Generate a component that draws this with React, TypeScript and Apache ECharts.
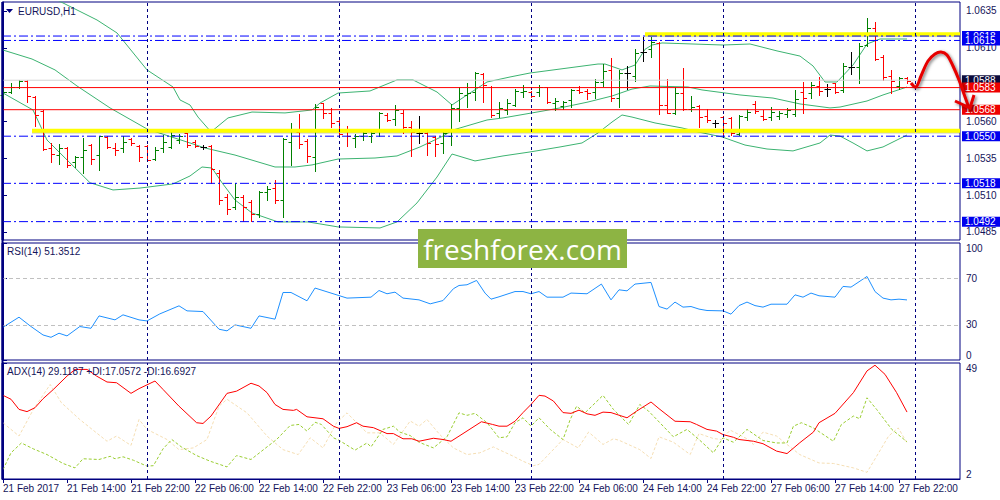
import React, { useEffect, useRef } from "react";
import * as echarts from "echarts";

// ---------- DATA ----------
const tickIndex = [0, 8, 16, 24, 32, 40, 48, 56, 64, 72, 80, 88, 96, 104, 112];
const tickLabels = [
  "21 Feb 2017", "21 Feb 14:00", "21 Feb 22:00", "22 Feb 06:00", "22 Feb 14:00",
  "22 Feb 22:00", "23 Feb 06:00", "23 Feb 14:00", "23 Feb 22:00", "24 Feb 06:00",
  "24 Feb 14:00", "24 Feb 22:00", "27 Feb 06:00", "27 Feb 14:00", "27 Feb 22:00",
];
const daySeparators = [18, 42, 66, 90, 114];

const opens = [
  1.05780, 1.05800, 1.05834, 1.05878, 1.05766, 1.05671, 1.05420, 1.05372, 1.05423, 1.05325,
  1.05359, 1.05440, 1.05372, 1.05495, 1.05420, 1.05420, 1.05481, 1.05434, 1.05434, 1.05345,
  1.05420, 1.05427, 1.05474, 1.05522, 1.05464, 1.05425, 1.05434, 1.05250, 1.05087, 1.05021,
  1.05089, 1.05055, 1.04972, 1.05121, 1.05146, 1.05067, 1.05463, 1.05531, 1.05470, 1.05357,
  1.05723, 1.05660, 1.05603, 1.05542, 1.05486, 1.05501, 1.05501, 1.05542, 1.05644, 1.05615,
  1.05660, 1.05561, 1.05520, 1.05524, 1.05493, 1.05456, 1.05501, 1.05689, 1.05780, 1.05802,
  1.05922, 1.05836, 1.05660, 1.05678, 1.05712, 1.05802, 1.05802, 1.05802, 1.05832, 1.05728,
  1.05705, 1.05746, 1.05814, 1.05809, 1.05802, 1.05870, 1.05950, 1.05757, 1.05927, 1.05909,
  1.06074, 1.06090, 1.06135, 1.05712, 1.05656, 1.05795, 1.05683, 1.05705, 1.05637, 1.05592,
  1.05628, 1.05622, 1.05515, 1.05632, 1.05719, 1.05637, 1.05632, 1.05637, 1.05651, 1.05651,
  1.05802, 1.05791, 1.05841, 1.05818, 1.05859, 1.05814, 1.05968, 1.05972, 1.06119, 1.06233,
  1.06036, 1.05909, 1.05841, 1.05893,
];
const highs = [
  1.05834, 1.05861, 1.05882, 1.05882, 1.05770, 1.05678, 1.05454, 1.05447, 1.05427, 1.05366,
  1.05488, 1.05447, 1.05501, 1.05501, 1.05457, 1.05501, 1.05488, 1.05440, 1.05440, 1.05427,
  1.05508, 1.05549, 1.05515, 1.05525, 1.05471, 1.05440, 1.05440, 1.05271, 1.05108, 1.05184,
  1.05101, 1.05067, 1.05128, 1.05162, 1.05203, 1.05486, 1.05592, 1.05651, 1.05479, 1.05719,
  1.05728, 1.05689, 1.05615, 1.05569, 1.05515, 1.05542, 1.05542, 1.05661, 1.05656, 1.05712,
  1.05678, 1.05605, 1.05637, 1.05531, 1.05501, 1.05531, 1.05719, 1.05836, 1.05863, 1.05938,
  1.05927, 1.05841, 1.05734, 1.05751, 1.05818, 1.05848, 1.05807, 1.05848, 1.05836, 1.05757,
  1.05741, 1.05818, 1.05841, 1.05818, 1.05886, 1.05990, 1.06029, 1.05950, 1.05977, 1.06090,
  1.06172, 1.06172, 1.06142, 1.05886, 1.05832, 1.05961, 1.05773, 1.05712, 1.05683, 1.05610,
  1.05637, 1.05628, 1.05644, 1.05683, 1.05741, 1.05678, 1.05696, 1.05673, 1.05689, 1.05814,
  1.05870, 1.05870, 1.05904, 1.05854, 1.05863, 1.05999, 1.06074, 1.06131, 1.06301, 1.06277,
  1.06051, 1.05950, 1.05904, 1.05900,
];
const lows = [
  1.05759, 1.05793, 1.05827, 1.05732, 1.05569, 1.05406, 1.05325, 1.05311, 1.05291, 1.05291,
  1.05250, 1.05311, 1.05271, 1.05420, 1.05372, 1.05393, 1.05440, 1.05332, 1.05332, 1.05339,
  1.05393, 1.05420, 1.05456, 1.05427, 1.05425, 1.05413, 1.05184, 1.05040, 1.04972, 1.05004,
  1.04926, 1.04926, 1.04954, 1.05067, 1.05045, 1.04949, 1.05305, 1.05418, 1.05327, 1.05266,
  1.05622, 1.05565, 1.05501, 1.05434, 1.05425, 1.05474, 1.05463, 1.05501, 1.05605, 1.05576,
  1.05520, 1.05366, 1.05452, 1.05372, 1.05366, 1.05388, 1.05440, 1.05605, 1.05696, 1.05746,
  1.05734, 1.05628, 1.05632, 1.05651, 1.05705, 1.05768, 1.05768, 1.05773, 1.05728, 1.05678,
  1.05683, 1.05700, 1.05795, 1.05751, 1.05757, 1.05841, 1.05741, 1.05696, 1.05818, 1.05877,
  1.06013, 1.06036, 1.05651, 1.05656, 1.05651, 1.05678, 1.05673, 1.05561, 1.05599, 1.05561,
  1.05515, 1.05508, 1.05508, 1.05610, 1.05660, 1.05610, 1.05610, 1.05615, 1.05632, 1.05637,
  1.05660, 1.05757, 1.05780, 1.05773, 1.05795, 1.05802, 1.05922, 1.05863, 1.06112, 1.06017,
  1.05882, 1.05795, 1.05818, 1.05859,
];
const closes = [
  1.05800, 1.05834, 1.05878, 1.05773, 1.05644, 1.05413, 1.05379, 1.05420, 1.05305, 1.05359,
  1.05406, 1.05345, 1.05498, 1.05427, 1.05406, 1.05464, 1.05451, 1.05362, 1.05339, 1.05406,
  1.05464, 1.05508, 1.05501, 1.05440, 1.05434, 1.05425, 1.05277, 1.05067, 1.05006, 1.05085,
  1.05021, 1.04972, 1.05123, 1.05142, 1.05067, 1.05481, 1.05542, 1.05447, 1.05368, 1.05696,
  1.05660, 1.05588, 1.05515, 1.05501, 1.05501, 1.05524, 1.05522, 1.05656, 1.05610, 1.05678,
  1.05565, 1.05531, 1.05520, 1.05456, 1.05447, 1.05520, 1.05689, 1.05791, 1.05795, 1.05931,
  1.05848, 1.05644, 1.05689, 1.05728, 1.05809, 1.05809, 1.05773, 1.05832, 1.05734, 1.05741,
  1.05734, 1.05814, 1.05802, 1.05795, 1.05870, 1.05945, 1.05757, 1.05931, 1.05927, 1.06067,
  1.06074, 1.06142, 1.05712, 1.05660, 1.05795, 1.05683, 1.05696, 1.05632, 1.05610, 1.05592,
  1.05592, 1.05520, 1.05637, 1.05666, 1.05673, 1.05615, 1.05666, 1.05656, 1.05678, 1.05751,
  1.05757, 1.05848, 1.05809, 1.05818, 1.05802, 1.05977, 1.05968, 1.06112, 1.06233, 1.06024,
  1.05904, 1.05877, 1.05893, 1.05878,
];

const bbUpper = [
  [0, 1.06608], [6.75, 1.06425], [11.75, 1.06289], [14.25, 1.06201], [18, 1.0595], [21.25, 1.05834],
  [22.125, 1.05746], [23.375, 1.05712], [24.375, 1.0563], [26, 1.05529], [28.125, 1.05624],
  [31.125, 1.05664], [35.25, 1.05658], [38.625, 1.05678], [39.625, 1.05725], [41.875, 1.05793],
  [45.875, 1.05807], [49.25, 1.05882], [51.25, 1.05882], [54.25, 1.058], [56.125, 1.05712],
  [58, 1.0578], [60.5, 1.05868], [63.375, 1.05902], [65.875, 1.05929], [69.625, 1.05956],
  [74.375, 1.0599], [75.25, 1.0599], [77.375, 1.0595], [79, 1.05983], [80.25, 1.0609],
  [81.125, 1.06119], [82.375, 1.06133], [90, 1.06119], [93.375, 1.06126], [96.75, 1.06079],
  [99.625, 1.06044], [101.25, 1.05977], [102.75, 1.05868], [104.25, 1.05868], [106.25, 1.05983],
  [108, 1.06126], [109.625, 1.0616], [113, 1.0616],
];
const bbMiddle = [
  [0, 1.06085], [3.625, 1.06024], [6.5, 1.0595], [9.25, 1.05841], [13.375, 1.05692], [18, 1.05549],
  [23.375, 1.05454], [25.25, 1.0542], [29, 1.05372], [34, 1.05291], [36.5, 1.05291], [38.625, 1.05305],
  [41.875, 1.05345], [46.5, 1.05352], [49.25, 1.05366], [52.125, 1.05427], [55, 1.05501],
  [56.25, 1.05542], [60.5, 1.0561], [62.5, 1.05624], [67.5, 1.05671], [69.625, 1.05692],
  [73.125, 1.05732], [76.125, 1.05773], [78.625, 1.0582], [80.875, 1.05841], [85.625, 1.05834],
  [87.375, 1.05814], [92.125, 1.0578], [96.25, 1.05759], [99.625, 1.05719], [103.375, 1.05692],
  [104.625, 1.05698], [108, 1.05739], [110, 1.0578], [113, 1.05834],
];
const bbLower = [
  [0, 1.05793], [3.75, 1.05678], [5.5, 1.05474], [8, 1.05339], [10.875, 1.05184], [13.75, 1.05135],
  [17.125, 1.05148], [21.25, 1.05176], [23.375, 1.0523], [24.875, 1.05291], [26.125, 1.05284],
  [27.375, 1.05184], [29, 1.05067], [31.125, 1.04979], [34.375, 1.04918], [38.125, 1.04918],
  [41.875, 1.04884], [47.125, 1.04877], [49.25, 1.04918], [51.75, 1.05047], [54.25, 1.05223],
  [56.125, 1.05379], [59, 1.05332], [62.5, 1.05366], [65.875, 1.05393], [69.625, 1.05427],
  [72.375, 1.05454], [74.375, 1.05522], [76.125, 1.05596], [77.375, 1.05644], [78.625, 1.0563],
  [81.5, 1.0559], [84.875, 1.05556], [86.875, 1.05529], [89.875, 1.05495], [92.75, 1.0544],
  [95.5, 1.05413], [98.75, 1.054], [102.125, 1.05454], [103.375, 1.05508], [104.625, 1.05501],
  [106.25, 1.05454], [108, 1.054], [110, 1.05427], [113, 1.05508],
];

const rsi = [
  [0, 28.0], [2, 36.6], [3.4, 29.1], [5, 21.4], [6, 19.4], [7, 22.9], [8, 20.6], [9.6, 28.6], [11, 27.1],
  [12, 37.7], [14, 34.3], [15, 38.6], [17, 34.3], [18, 33.4], [19.6, 39.4], [22, 46.3], [23, 42.0],
  [25, 41.4], [27, 26.3], [28, 24.9], [29, 30.0], [31, 27.1], [32, 37.7], [34, 34.9], [35, 57.7],
  [36, 57.7], [38, 50.6], [39, 61.5], [41, 57.2], [43, 52.9], [46, 53.7], [47, 59.4], [48, 56.6],
  [49, 58.0], [50, 52.9], [52, 51.4], [53.4, 48.0], [55, 50.8], [56.3, 60.9], [57, 63.7], [58, 64.3],
  [59.2, 68.0], [60.25, 57.2], [61, 52.0], [62, 54.0], [64, 58.5], [65, 58.5], [66, 56.6], [67, 58.5],
  [68, 53.7], [70, 53.7], [71, 57.2], [73, 56.6], [74.8, 64.9], [76, 51.4], [77, 60.0], [78, 59.1],
  [79, 64.9], [81, 66.3], [82, 45.7], [83, 43.5], [84, 49.5], [85, 45.2], [86, 45.7], [87, 43.5],
  [88, 42.3], [90, 42.0], [91, 39.2], [92, 46.5], [93, 49.5], [94, 46.5], [95, 45.2], [96, 47.7],
  [98, 47.7], [99, 55.7], [100, 53.7], [101, 57.2], [102, 54.9], [104, 53.7], [105, 62.9], [106, 62.3],
  [108, 71.4], [109, 58.5], [110, 52.9], [111, 51.4], [112, 52.0], [113, 51.35],
];

const adx = [
  [0, 35.9], [1, 34.3], [2, 30.2], [3, 29.3], [4, 30.9], [5, 34.5], [6.3, 38.3], [8, 43.7], [9, 46.4],
  [10.5, 46.4], [11.7, 43.7], [13, 41.3], [14.2, 41.0], [16, 36.7], [17, 38.6], [19, 41.7], [20, 38.3],
  [22, 31.5], [24.2, 24.8], [25, 24.5], [26, 27.5], [28, 36.7], [29.2, 37.6], [31, 40.8], [32, 39.7],
  [33, 37.0], [34, 32.2], [35, 30.2], [36.3, 29.8], [36.7, 30.2], [38, 27.2], [40, 26.4], [41.3, 23.4],
  [42, 22.5], [43, 23.2], [44.2, 24.8], [45, 23.4], [46.3, 22.8], [48, 20.4], [48.8, 20.4], [50, 18.3],
  [51.1, 18.3], [52, 17.3], [53.8, 18.5], [55, 18.0], [56, 17.3], [57.5, 20.4], [59.8, 25.2],
  [61.2, 24.1], [62, 23.4], [63, 23.4], [64, 25.4], [65, 28.9], [66, 32.2], [67, 35.9], [67.75, 35.6],
  [68.8, 33.6], [70, 28.9], [71, 28.6], [72, 29.9], [73, 28.4], [74, 27.8], [75, 29.1], [76, 28.9],
  [78, 26.8], [79.2, 29.5], [81, 33.2], [82, 30.5], [84, 25.4], [85.9, 25.2], [86.7, 24.1], [88, 22.1],
  [89.2, 21.4], [90, 20.0], [91.3, 18.9], [92, 18.0], [93.8, 17.3], [95, 16.3], [96.7, 13.3], [98, 12.3],
  [99.6, 16.7], [101.3, 21.0], [102, 24.8], [104, 28.6], [106.3, 37.0], [108, 45.8], [109, 48.1],
  [110.25, 44.4], [111.7, 37.0], [113, 29.12],
];
const plusDI = [
  [0, 5.8], [1, 12.6], [2.3, 16.6], [3.8, 14.2], [5.5, 11.9], [7.5, 8.3], [9, 6.5], [10, 10.2], [12, 9.9],
  [13.4, 11.2], [14, 10.2], [15, 11.0], [16.3, 9.6], [18, 7.2], [18.8, 7.4], [20, 14.2], [21.1, 18.0],
  [22.3, 15.0], [24.2, 11.5], [25.9, 9.2], [28, 6.9], [29.2, 11.5], [31, 9.9], [33, 15.0], [34.2, 18.0],
  [35.9, 23.7], [37, 24.1], [38, 21.4], [39, 25.0], [39.8, 24.1], [41.3, 18.7], [42, 17.7], [44, 13.7],
  [45.5, 16.6], [46, 15.0], [47.5, 22.1], [48.8, 23.4], [49.6, 21.0], [50.9, 19.6], [52, 16.9],
  [53.8, 14.6], [55.5, 19.1], [57, 28.8], [58, 27.8], [59, 28.6], [60.5, 24.8], [62, 18.7], [63, 19.1],
  [64, 24.8], [65, 26.8], [66, 23.4], [67, 26.8], [68.4, 22.1], [70, 18.0], [70.9, 26.1], [71.7, 31.5],
  [72.75, 28.8], [75, 35.9], [76.3, 30.2], [78.2, 24.1], [79.6, 32.2], [80.7, 29.5], [81.9, 25.5],
  [83.8, 19.1], [85.5, 22.1], [87, 18.0], [88.8, 12.6], [90, 18.7], [91.3, 16.9], [93, 22.1], [95, 17.6],
  [96.7, 16.6], [98, 16.6], [98.8, 23.4], [99.8, 24.8], [101.3, 22.7], [103.8, 17.3], [104.8, 24.1],
  [106.3, 27.5], [107.1, 26.4], [108, 34.9], [109.2, 30.2], [111.1, 22.1], [113, 17.06],
];
const minusDI = [
  [0, 24.8], [2, 19.4], [3.8, 30.2], [5.9, 40.3], [7.3, 32.9], [9.6, 26.1], [13, 17.3], [14.2, 19.4],
  [16, 15.6], [17, 26.1], [18, 22.1], [20.5, 18.0], [22, 13.9], [23.8, 14.6], [25.5, 18.0], [27, 31.5],
  [28, 34.3], [30.5, 28.8], [33, 19.4], [35, 13.9], [36.9, 11.9], [38.4, 18.7], [40, 14.6], [41.7, 24.8],
  [43, 28.8], [44, 25.5], [45.5, 20.7], [47.1, 20.7], [48.8, 16.0], [50.9, 25.5], [52, 23.4], [53, 26.1],
  [54.6, 20.0], [56.3, 14.6], [58, 11.9], [59.6, 12.6], [61.3, 15.0], [62, 13.9], [63.8, 11.2], [65, 9.2],
  [66.3, 7.4], [67, 7.9], [68.4, 12.6], [70, 18.0], [71.9, 14.6], [73.2, 21.0], [75, 16.0], [76.3, 18.3],
  [77, 17.7], [79.6, 13.9], [81, 10.3], [82, 19.1], [83.8, 16.9], [85.9, 11.9], [87, 20.4], [88.8, 18.4],
  [89.8, 18.0], [90.9, 21.8], [92, 20.0], [93, 18.3], [93.8, 16.0], [95, 21.0], [96.7, 19.4], [98, 16.0],
  [99.6, 11.9], [102, 8.5], [103.8, 8.3], [106.3, 6.5], [108, 4.7], [109.2, 11.2], [110.7, 19.4],
  [111.9, 22.7], [113, 16.69],
];

const priceTicks = [1.0485, 1.051, 1.0535, 1.056, 1.061, 1.0635];
const rsiTicks = [0, 30, 70, 100];
const rsiLevels = [30, 70];
const adxTicks = [2, 49];
const blueLevels = [1.0618, 1.0615, 1.055, 1.0518, 1.0492];
const redLevels = [1.0583, 1.0568];
const bidPrice = 1.0588;
const highlightZones = [
  { from: 80.25, price: 1.06193 },
  { from: 3.625, price: 1.05537 },
];

// ---------- STYLE ----------
const FONT = "'Liberation Sans', Arial, sans-serif";
const NAVY = "#000080";
const TXT = "#14145a";
const UP = "#008000";
const DOWN = "#ff0000";
const X_MIN = -0.125;
const X_MAX = 119.625;
const SHADOW_SHIFT = [0.00004, 0.00008]; // soft shadow bands under the yellow highlight

function levelSeries(
  name: string,
  price: number,
  from: number,
  lineStyle: any,
  labelBg: string | null,
  z: number
) {
  return {
    name,
    type: "line",
    xAxisIndex: 0,
    yAxisIndex: 0,
    data: [
      [from, price],
      [X_MAX, price],
    ],
    showSymbol: false,
    symbol: "none",
    silent: true,
    z,
    lineStyle,
    itemStyle: { color: lineStyle.color },
    emphasis: { disabled: true },
    endLabel: labelBg
      ? {
          show: true,
          formatter: price.toFixed(4),
          distance: 2,
          backgroundColor: labelBg,
          color: "#ffffff",
          padding: [0, 12, 0, 3],
          lineHeight: 10,
          fontSize: 10,
          fontFamily: FONT,
        }
      : { show: false },
  };
}

function buildOption() {
  const ohlc = opens.map((o, i) => [i, o, highs[i], lows[i], closes[i]]);
  const sepLines = daySeparators.map((x) => ({ xAxis: x }));
  const sepMarkLine = {
    silent: true,
    symbol: ["none", "none"],
    label: { show: false },
    lineStyle: { color: NAVY, type: [3, 3], width: 1 },
    data: sepLines,
  };

  const levels: any[] = [];
  highlightZones.forEach((zn, k) => {
    levels.push(
      levelSeries("zoneShadowB" + k, zn.price - SHADOW_SHIFT[1], zn.from, {
        color: "rgba(0,0,0,0.07)", width: 4, type: "solid",
      }, null, 4)
    );
    levels.push(
      levelSeries("zoneShadowA" + k, zn.price - SHADOW_SHIFT[0], zn.from, {
        color: "rgba(0,0,0,0.16)", width: 4, type: "solid",
      }, null, 4)
    );
    levels.push(
      levelSeries("zone" + k, zn.price, zn.from, { color: "#ffff00", width: 4, type: "solid" }, null, 4)
    );
  });
  levels.push(levelSeries("bid", bidPrice, X_MIN, { color: "#d3d3d3", width: 1, type: "solid" }, "#0c0c3c", 5));
  blueLevels.forEach((p, k) =>
    levels.push(levelSeries("blue" + k, p, X_MIN, { color: "#0000ff", width: 1, type: [9, 3, 2, 3] }, "#0000ee", 5))
  );
  redLevels.forEach((p, k) =>
    levels.push(levelSeries("red" + k, p, X_MIN, { color: "#ff0000", width: 1, type: "solid" }, "#ee0000", 5))
  );

  const xBase = {
    type: "value",
    min: X_MIN,
    max: X_MAX,
    splitLine: { show: false },
    axisLine: { show: false },
    axisTick: { show: false },
    axisLabel: { show: false },
  };
  const yLabel = { color: TXT, fontSize: 10, fontFamily: FONT, margin: 6 };
  const bbStyle = { color: "#3cb371", width: 1 };

  return {
    animation: false,
    backgroundColor: "#ffffff",
    grid: [
      { left: 2, top: 2, width: 958, height: 238, show: true, borderColor: NAVY, borderWidth: 1, backgroundColor: "transparent" },
      { left: 2, top: 243, width: 958, height: 117, show: true, borderColor: NAVY, borderWidth: 1, backgroundColor: "transparent" },
      { left: 2, top: 363, width: 958, height: 116, show: true, borderColor: NAVY, borderWidth: 1, backgroundColor: "transparent" },
    ],
    xAxis: [
      { ...xBase, gridIndex: 0 },
      { ...xBase, gridIndex: 1 },
      {
        ...xBase,
        gridIndex: 2,
        axisLine: { show: true, lineStyle: { color: NAVY } },
        axisTick: { show: true, customValues: tickIndex, length: 4, lineStyle: { color: NAVY } },
        axisLabel: {
          show: true,
          customValues: tickIndex,
          formatter: (v: number) => tickLabels[tickIndex.indexOf(Math.round(v))] ?? "",
          align: "left",
          verticalAlign: "top",
          margin: 4,
          color: TXT,
          fontSize: 10,
          fontFamily: FONT,
        },
      },
    ],
    yAxis: [
      {
        type: "value",
        gridIndex: 0,
        position: "right",
        min: 1.047953,
        max: 1.064111,
        splitLine: { show: false },
        axisLine: { show: true, lineStyle: { color: NAVY } },
        axisTick: { show: true, customValues: priceTicks, length: 4, lineStyle: { color: NAVY } },
        axisLabel: { ...yLabel, customValues: priceTicks, formatter: (v: number) => v.toFixed(4) },
      },
      {
        type: "value",
        gridIndex: 1,
        position: "right",
        min: 0,
        max: 100,
        splitLine: { show: false },
        axisLine: { show: true, lineStyle: { color: NAVY } },
        axisTick: { show: true, customValues: rsiTicks, length: 4, lineStyle: { color: NAVY } },
        axisLabel: {
          ...yLabel,
          customValues: rsiTicks,
          formatter: (v: number) => String(v),
          verticalAlignMinLabel: "bottom",
          verticalAlignMaxLabel: "top",
        },
      },
      {
        type: "value",
        gridIndex: 2,
        position: "right",
        min: 2,
        max: 49,
        splitLine: { show: false },
        axisLine: { show: true, lineStyle: { color: NAVY } },
        axisTick: { show: true, customValues: adxTicks, length: 4, lineStyle: { color: NAVY } },
        axisLabel: {
          ...yLabel,
          customValues: adxTicks,
          formatter: (v: number) => String(v),
          verticalAlignMinLabel: "bottom",
          verticalAlignMaxLabel: "top",
        },
      },
    ],
    series: [
      { name: "BB upper", type: "line", xAxisIndex: 0, yAxisIndex: 0, data: bbUpper, showSymbol: false, lineStyle: bbStyle, itemStyle: { color: "#3cb371" }, z: 2 },
      {
        name: "BB middle", type: "line", xAxisIndex: 0, yAxisIndex: 0, data: bbMiddle, showSymbol: false,
        lineStyle: bbStyle, itemStyle: { color: "#3cb371" }, z: 2, markLine: sepMarkLine,
      },
      { name: "BB lower", type: "line", xAxisIndex: 0, yAxisIndex: 0, data: bbLower, showSymbol: false, lineStyle: bbStyle, itemStyle: { color: "#3cb371" }, z: 2 },
      {
        name: "EURUSD",
        type: "custom",
        xAxisIndex: 0,
        yAxisIndex: 0,
        z: 3,
        encode: { x: 0, y: [1, 2, 3, 4] },
        data: ohlc,
        renderItem: (params: any, api: any) => {
          const x = api.value(0);
          const o = api.value(1);
          const h = api.value(2);
          const l = api.value(3);
          const c = api.value(4);
          const pH = api.coord([x, h]);
          const pL = api.coord([x, l]);
          const pO = api.coord([x, o]);
          const pC = api.coord([x, c]);
          const color = c > o ? UP : c < o ? DOWN : "#000000";
          const X = Math.round(pH[0]) + 0.5;
          const yo = Math.round(pO[1]) + 0.5;
          const yc = Math.round(pC[1]) + 0.5;
          const st = { stroke: color, lineWidth: 1 };
          return {
            type: "group",
            children: [
              { type: "line", shape: { x1: X, y1: Math.round(pH[1]), x2: X, y2: Math.round(pL[1]) + 1 }, style: st },
              { type: "line", shape: { x1: X - 3, y1: yo, x2: X, y2: yo }, style: st },
              { type: "line", shape: { x1: X, y1: yc, x2: X + 3.5, y2: yc }, style: st },
            ],
          };
        },
      },
      ...levels,
      {
        name: "RSI(14)",
        type: "line",
        xAxisIndex: 1,
        yAxisIndex: 1,
        data: rsi,
        showSymbol: false,
        lineStyle: { color: "#1e90ff", width: 1 },
        itemStyle: { color: "#1e90ff" },
        markLine: {
          silent: true,
          symbol: ["none", "none"],
          label: { show: false },
          data: [
            ...rsiLevels.map((v) => ({ yAxis: v, lineStyle: { color: "#c0c0c0", type: [4, 3], width: 1 } })),
            ...sepLines,
          ],
          lineStyle: { color: NAVY, type: [3, 3], width: 1 },
        },
      },
      {
        name: "-DI",
        type: "line",
        xAxisIndex: 2,
        yAxisIndex: 2,
        data: minusDI,
        showSymbol: false,
        lineStyle: { color: "#f5deb3", width: 1, type: [3, 2] },
        itemStyle: { color: "#f5deb3" },
        markLine: sepMarkLine,
      },
      {
        name: "+DI",
        type: "line",
        xAxisIndex: 2,
        yAxisIndex: 2,
        data: plusDI,
        showSymbol: false,
        lineStyle: { color: "#9acd32", width: 1, type: [3, 2] },
        itemStyle: { color: "#9acd32" },
      },
      {
        name: "ADX(14)",
        type: "line",
        xAxisIndex: 2,
        yAxisIndex: 2,
        data: adx,
        showSymbol: false,
        lineStyle: { color: "#ff0000", width: 1 },
        itemStyle: { color: "#ff0000" },
      },
    ],
    graphic: [
      { type: "line", z: 40, shape: { x1: 2.5, y1: 2, x2: 2.5, y2: 479 }, style: { stroke: NAVY, lineWidth: 2 } },
      { type: "polygon", z: 50, shape: { points: [[6, 9], [13, 9], [9.5, 13]] }, style: { fill: NAVY } },
      { type: "text", z: 50, x: 18, y: 11, style: { text: "EURUSD,H1", fill: TXT, fontSize: 10, fontFamily: FONT, verticalAlign: "middle" } },
      { type: "text", z: 50, x: 7, y: 251, style: { text: "RSI(14) 51.3512", fill: TXT, fontSize: 10, fontFamily: FONT, verticalAlign: "middle" } },
      { type: "text", z: 50, x: 7, y: 371, style: { text: "ADX(14) 29.1187 +DI:17.0572 -DI:16.6927", fill: TXT, fontSize: 10, fontFamily: FONT, verticalAlign: "middle" } },
      { type: "rect", z: 60, shape: { x: 418, y: 229, width: 209, height: 39 }, style: { fill: "#8db443" } },
      { type: "text", z: 61, x: 522.5, y: 249, style: { text: "freshforex.com", fill: "#ffffff", fontSize: 28, fontFamily: "'Open Sans', sans-serif", align: "center", verticalAlign: "middle" } },
      {
        type: "polyline",
        z: 70,
        shape: {
          points: [[911, 83], [916, 87], [921, 76], [928, 61], [935, 54], [941, 52], [947, 55], [953, 66], [959, 80], [964, 94], [969, 108]],
          smooth: 0.35,
        },
        style: { stroke: "#e60000", lineWidth: 3, fill: "none", shadowColor: "rgba(0,0,0,0.5)", shadowBlur: 3, shadowOffsetX: 1.5, shadowOffsetY: 1.5 },
      },
      {
        type: "polyline",
        z: 70,
        shape: { points: [[955, 101], [970, 108], [974, 95]] },
        style: { stroke: "#e60000", lineWidth: 3, fill: "none", shadowColor: "rgba(0,0,0,0.5)", shadowBlur: 3, shadowOffsetX: 1.5, shadowOffsetY: 1.5 },
      },
    ],
  };
}

export default function App() {
  const ref = useRef<HTMLDivElement>(null);
  useEffect(() => {
    if (!ref.current) return;
    const chart = echarts.init(ref.current, null, { renderer: "svg" });
    chart.setOption(buildOption() as any);
    return () => chart.dispose();
  }, []);
  return (
    <div
      ref={ref}
      style={{ position: "absolute", left: 0, top: 0, width: 1000, height: 500, background: "#ffffff" }}
    />
  );
}
